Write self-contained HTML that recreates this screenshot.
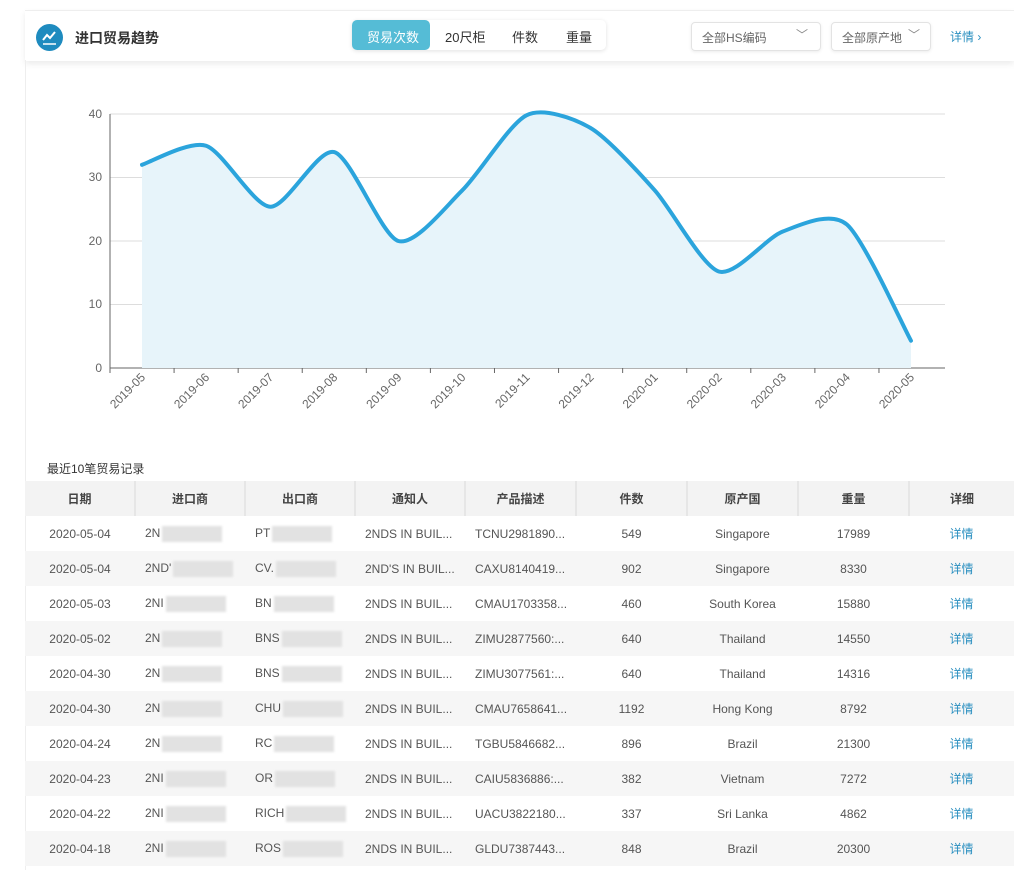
<!DOCTYPE html>
<html><head><meta charset="utf-8"><style>
body{margin:0;width:1014px;height:883px;background:#fff;font-family:"Liberation Sans","Noto Sans CJK SC",sans-serif;overflow:hidden;position:relative}
.hdr{position:absolute;left:25px;top:10px;width:989px;height:50px;background:#fff;box-shadow:0 3px 6px rgba(0,0,0,.08);border-top:1px solid #eee}
.lb{position:absolute;left:25px;top:60px;width:1px;height:810px;background:#eee}
.logo{position:absolute;left:11px;top:13px;width:27px;height:27px;border-radius:50%;background:#1e8bbf}
.title{position:absolute;left:50px;top:17px;font-size:14px;font-weight:bold;color:#333}
.tabs{position:absolute;left:327px;top:9px;width:254px;height:30px;border-radius:5px;box-shadow:0 1px 4px rgba(0,0,0,.12);font-size:13px;color:#333}
.tabs span{position:absolute;top:7px}
.act{position:absolute;left:0;top:0;width:78px;height:30px;background:#55bcd6;border-radius:5px}
.sel{position:absolute;top:11px;height:27px;border:1px solid #e3e3e3;border-radius:4px;box-shadow:0 1px 3px rgba(0,0,0,.08);font-size:12px;color:#666}
.sel span{position:absolute;left:10px;top:6px}
.sel i{position:absolute;top:3px;font-style:normal;color:#888}
.cap{position:absolute;left:47px;top:460px;font-size:12px;color:#333}
table{position:absolute;left:25px;top:481px;border-collapse:collapse;font-size:12px;color:#555}
th{height:35px;background:#f3f3f3;font-weight:bold;color:#444;border-left:2px solid #e6e6e6;padding:0}
th:first-child{border-left:none}
td{height:35px;padding:0;text-align:center}
td.l{text-align:left;padding-left:10px}
tr:nth-child(odd) td{background:#f6f6f6}
a{color:#2a8fc0}
.blur{display:inline-block;width:60px;height:16px;background:#e2e2e2;vertical-align:middle;margin-left:2px;filter:blur(1px)}
</style></head><body>
<div class="hdr">
<div class="logo"><svg width="27" height="27"><polyline points="7,16 11,11 14,14 19,8" fill="none" stroke="#fff" stroke-width="2"/><line x1="7" y1="20" x2="20" y2="20" stroke="#fff" stroke-width="1.5"/></svg></div>
<div class="title">进口贸易趋势</div>
<div class="tabs"><div class="act"></div><span style="left:15px;color:#fff">贸易次数</span><span style="left:93px">20尺柜</span><span style="left:160px">件数</span><span style="left:214px">重量</span></div>
<div class="sel" style="left:666px;width:128px"><span>全部HS编码</span><i style="left:104px">﹀</i></div>
<div class="sel" style="left:806px;width:98px"><span>全部原产地</span><i style="left:76px">﹀</i></div>
<div style="position:absolute;left:925px;top:17px;font-size:12px;color:#2a8fc0">详情 ›</div>
</div>
<div class="lb"></div>
<svg width="1014" height="460" style="position:absolute;left:0;top:0" font-family="Liberation Sans,sans-serif" font-size="12" fill="#666">
<g stroke="#ddd"><line x1="110" y1="114" x2="945" y2="114"/><line x1="110" y1="177.5" x2="945" y2="177.5"/><line x1="110" y1="241" x2="945" y2="241"/><line x1="110" y1="304.5" x2="945" y2="304.5"/></g>
<line x1="110" y1="114" x2="110" y2="368" stroke="#666"/><line x1="110" y1="368" x2="945" y2="368" stroke="#666"/>
<g text-anchor="end"><text x="102" y="118">40</text><text x="102" y="181">30</text><text x="102" y="245">20</text><text x="102" y="308">10</text><text x="102" y="372">0</text></g>
<path id="area" fill="#e7f4fa"/><path id="ln" fill="none" stroke="#2ba4dc" stroke-width="4" stroke-linecap="round"/>
<g id="xl"></g>
</svg>
<script>
var v=[32,35,25.4,34,20,28,39.8,37.8,28,15.2,21.5,22.6,4.3],p=[];
for(var i=0;i<13;i++)p.push([142+64.08*i,368-6.35*v[i]]);
var d="M"+p[0];
for(var i=0;i<12;i++){var a=p[i-1]||p[i],b=p[i],c=p[i+1],e=p[i+2]||c,t=0.13;
d+=" C"+(b[0]+(c[0]-a[0])*t)+","+(b[1]+(c[1]-a[1])*t)+" "+(c[0]-(e[0]-b[0])*t)+","+(c[1]-(e[1]-b[1])*t)+" "+c;}
document.getElementById('ln').setAttribute('d',d);
document.getElementById('area').setAttribute('d',d+" L911,368 L142,368Z");
var L=["2019-05","2019-06","2019-07","2019-08","2019-09","2019-10","2019-11","2019-12","2020-01","2020-02","2020-03","2020-04","2020-05"],s="";
for(var i=0;i<13;i++){var x=142+64.08*i;s+='<line x1="'+(x-32)+'" y1="368" x2="'+(x-32)+'" y2="373" stroke="#666"/><text transform="translate('+(x+4)+',378) rotate(-45)" text-anchor="end">'+L[i]+'</text>';}
document.getElementById('xl').innerHTML=s;
</script>
<div class="cap">最近10笔贸易记录</div>
<table>
<colgroup><col width="110"><col width="110"><col width="110"><col width="110"><col width="111"><col width="111"><col width="111"><col width="111"><col width="105"></colgroup>
<tr><th>日期</th><th>进口商</th><th>出口商</th><th>通知人</th><th>产品描述</th><th>件数</th><th>原产国</th><th>重量</th><th>详细</th></tr>
<tr><td>2020-05-04</td><td class="l">2N<span class="blur"></span></td><td class="l">PT<span class="blur"></span></td><td class="l">2NDS IN BUIL...</td><td class="l">TCNU2981890...</td><td>549</td><td>Singapore</td><td>17989</td><td><a>详情</a></td></tr>
<tr><td>2020-05-04</td><td class="l">2ND'<span class="blur"></span></td><td class="l">CV.<span class="blur"></span></td><td class="l">2ND'S IN BUIL...</td><td class="l">CAXU8140419...</td><td>902</td><td>Singapore</td><td>8330</td><td><a>详情</a></td></tr>
<tr><td>2020-05-03</td><td class="l">2NI<span class="blur"></span></td><td class="l">BN<span class="blur"></span></td><td class="l">2NDS IN BUIL...</td><td class="l">CMAU1703358...</td><td>460</td><td>South Korea</td><td>15880</td><td><a>详情</a></td></tr>
<tr><td>2020-05-02</td><td class="l">2N<span class="blur"></span></td><td class="l">BNS<span class="blur"></span></td><td class="l">2NDS IN BUIL...</td><td class="l">ZIMU2877560:...</td><td>640</td><td>Thailand</td><td>14550</td><td><a>详情</a></td></tr>
<tr><td>2020-04-30</td><td class="l">2N<span class="blur"></span></td><td class="l">BNS<span class="blur"></span></td><td class="l">2NDS IN BUIL...</td><td class="l">ZIMU3077561:...</td><td>640</td><td>Thailand</td><td>14316</td><td><a>详情</a></td></tr>
<tr><td>2020-04-30</td><td class="l">2N<span class="blur"></span></td><td class="l">CHU<span class="blur"></span></td><td class="l">2NDS IN BUIL...</td><td class="l">CMAU7658641...</td><td>1192</td><td>Hong Kong</td><td>8792</td><td><a>详情</a></td></tr>
<tr><td>2020-04-24</td><td class="l">2N<span class="blur"></span></td><td class="l">RC<span class="blur"></span></td><td class="l">2NDS IN BUIL...</td><td class="l">TGBU5846682...</td><td>896</td><td>Brazil</td><td>21300</td><td><a>详情</a></td></tr>
<tr><td>2020-04-23</td><td class="l">2NI<span class="blur"></span></td><td class="l">OR<span class="blur"></span></td><td class="l">2NDS IN BUIL...</td><td class="l">CAIU5836886:...</td><td>382</td><td>Vietnam</td><td>7272</td><td><a>详情</a></td></tr>
<tr><td>2020-04-22</td><td class="l">2NI<span class="blur"></span></td><td class="l">RICH<span class="blur"></span></td><td class="l">2NDS IN BUIL...</td><td class="l">UACU3822180...</td><td>337</td><td>Sri Lanka</td><td>4862</td><td><a>详情</a></td></tr>
<tr><td>2020-04-18</td><td class="l">2NI<span class="blur"></span></td><td class="l">ROS<span class="blur"></span></td><td class="l">2NDS IN BUIL...</td><td class="l">GLDU7387443...</td><td>848</td><td>Brazil</td><td>20300</td><td><a>详情</a></td></tr>
</table>
</body></html>
